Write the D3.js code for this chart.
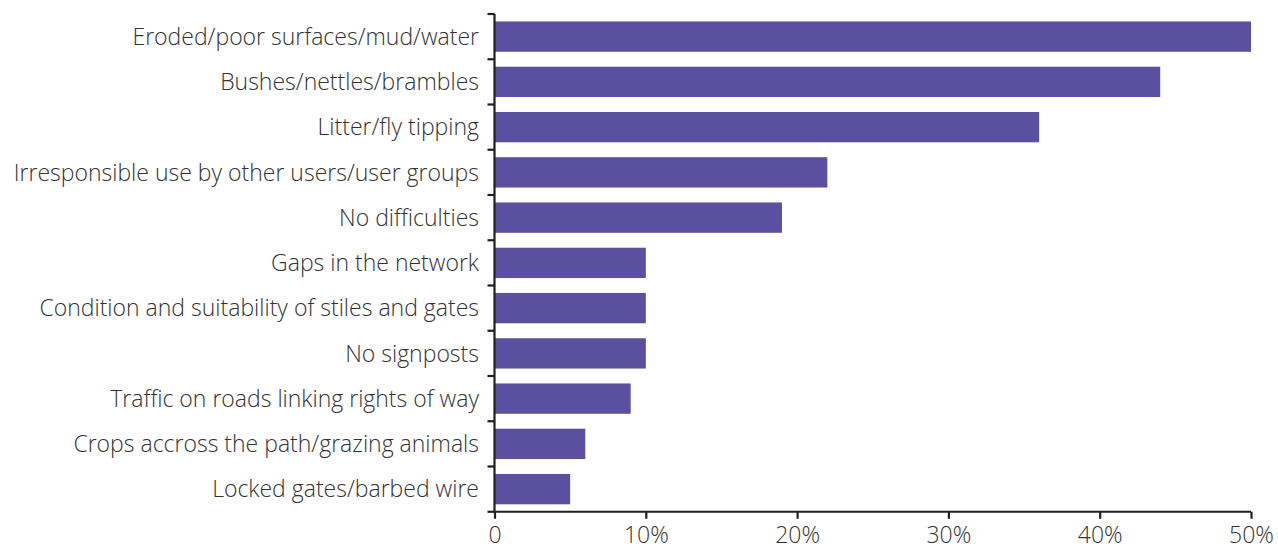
<!DOCTYPE html>
<html><head><meta charset="utf-8">
<script src="https://cdn.jsdelivr.net/npm/d3@7"></script>
<style>
html,body{margin:0;padding:0;background:#fff;}
svg{display:block;}
text{font-family:"Open Sans", Lato, sans-serif;font-weight:300;}
</style></head>
<body>
<svg id="chart" width="1278" height="552"></svg>
<script>
const categories = [
  "Eroded/poor surfaces/mud/water",
  "Bushes/nettles/brambles",
  "Litter/fly tipping",
  "Irresponsible use by other users/user groups",
  "No difficulties",
  "Gaps in the network",
  "Condition and suitability of stiles and gates",
  "No signposts",
  "Traffic on roads linking rights of way",
  "Crops accross the path/grazing animals",
  "Locked gates/barbed wire"
];
const values = [50, 44, 36, 22, 19, 10, 10, 10, 9, 6, 5];
const tickValues = [0, 10, 20, 30, 40, 50];
const tickLabels = ["0", "10%", "20%", "30%", "40%", "50%"];

const svg = d3.select("#chart");
const x0 = 494.5, x1 = 1251, yTop = 14, yBot = 511.75;
const x = d3.scaleLinear().domain([0, 50]).range([x0, x1]);
const y = d3.scaleBand().domain(categories).range([yTop, yBot]).paddingInner(0.33).paddingOuter(0.165);

svg.append("g").selectAll("rect").data(values).join("rect")
  .attr("x", x(0)).attr("y", (d,i)=>y(categories[i]))
  .attr("width", d=>x(d)-x(0)).attr("height", y.bandwidth())
  .attr("fill", "#5b4f9f");

const axisColor = "#231f20";
svg.append("line").attr("x1", x0).attr("x2", x0).attr("y1", yTop).attr("y2", yBot)
  .attr("stroke", axisColor).attr("stroke-width", 2.2);
const step = (yBot - yTop) / categories.length;
const bounds = d3.range(categories.length + 1).map(i => yTop + i*step);
svg.append("g").selectAll("line").data(bounds).join("line")
  .attr("x1", x0 - 7).attr("x2", x0).attr("y1", d=>d).attr("y2", d=>d)
  .attr("stroke", axisColor).attr("stroke-width", 2.2);
svg.append("g").selectAll("text").data(categories).join("text")
  .attr("x", 479).attr("y", d=>y(d)+y.bandwidth()/2)
  .attr("dy", "0.36em").attr("text-anchor", "end")
  .attr("font-size", 23).attr("fill", "#333").text(d=>d);

const xAxis = d3.axisBottom(x).tickValues(tickValues).tickSize(7).tickPadding(8)
  .tickFormat((d,i)=>tickLabels[i]);
const gx = svg.append("g").attr("transform", `translate(0,${yBot})`).call(xAxis);
gx.select(".domain").attr("stroke", axisColor).attr("stroke-width", 2.2).attr("d", `M${x0},0H${x1}`);
gx.selectAll(".tick line").attr("stroke", axisColor).attr("stroke-width", 2.2);
gx.selectAll(".tick text").attr("font-size", 23).attr("fill", "#333")
  .attr("font-family", "'Open Sans', Lato, sans-serif").attr("font-weight", 300);
</script>
</body></html>
